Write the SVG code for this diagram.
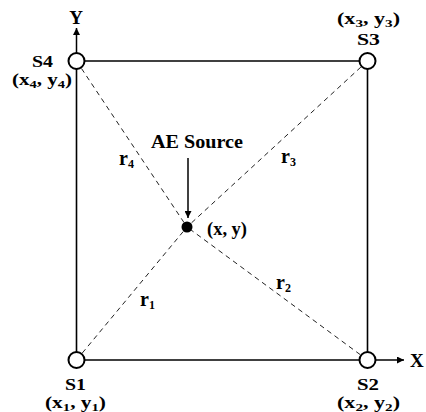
<svg xmlns="http://www.w3.org/2000/svg" width="426" height="412" viewBox="0 0 426 412">
<defs>
<marker id="ah" viewBox="0 0 10 10" refX="10" refY="5" markerWidth="10" markerHeight="7" markerUnits="userSpaceOnUse" orient="auto">
<path d="M0,0 L10,5 L0,10 z" fill="#000"/>
</marker>
<style>
text{font-family:"Liberation Serif","Times New Roman",serif;font-weight:bold;fill:#000;font-size:16px}
.big{font-size:19px}
.r{font-size:20px}
.sub{font-size:11px}
.rsub{font-size:12px}
.box{stroke:#000;stroke-width:1.6;fill:none}
.dash{stroke:#222;stroke-width:1;stroke-dasharray:5 4;fill:none}
.axis{stroke:#000;stroke-width:1.5;fill:none}
.sensor{fill:#fff;stroke:#000;stroke-width:2}
</style>
</defs>
<rect width="426" height="412" fill="#fff"/>
<g id="connectors">
<line class="box" x1="76.5" y1="61" x2="367.5" y2="61"/>
<line class="box" x1="367.5" y1="61" x2="367.5" y2="360"/>
<line class="box" x1="367.5" y1="360" x2="76.5" y2="360"/>
<line class="box" x1="76.5" y1="360" x2="76.5" y2="61"/>
<line class="dash" x1="76.5" y1="360" x2="187" y2="227"/>
<line class="dash" x1="367.5" y1="360" x2="187" y2="227"/>
<line class="dash" x1="367.5" y1="61" x2="187" y2="227"/>
<line class="dash" x1="76.5" y1="61" x2="187" y2="227"/>
<line class="axis" x1="76.5" y1="53" x2="76.5" y2="28" marker-end="url(#ah)"/>
<line class="axis" x1="375.5" y1="360" x2="404" y2="360" marker-end="url(#ah)"/>
<line class="axis" x1="188" y1="158" x2="188" y2="218" marker-end="url(#ah)"/>
<text class="r" x="119" y="165">r<tspan class="rsub" dy="3">4</tspan></text>
<text class="r" x="281" y="163">r<tspan class="rsub" dy="3">3</tspan></text>
<text class="r" x="140" y="306">r<tspan class="rsub" dy="3">1</tspan></text>
<text class="r" x="276" y="289">r<tspan class="rsub" dy="3">2</tspan></text>
</g>
<g id="axis-labels">
<text class="big" x="76" y="24" text-anchor="middle">Y</text>
<text class="big" x="410" y="367">X</text>
</g>
<g id="source">
<circle cx="187" cy="227" r="5.5" fill="#000"/>
<text class="big" x="151" y="148" textLength="92" lengthAdjust="spacingAndGlyphs">AE Source</text>
<text class="big" x="207" y="235" textLength="40" lengthAdjust="spacingAndGlyphs">(x, y)</text>
</g>
<g id="S1">
<circle class="sensor" cx="76.5" cy="360" r="8"/>
<text x="65" y="390" textLength="21" lengthAdjust="spacingAndGlyphs">S1</text>
<text x="45" y="408" textLength="61" lengthAdjust="spacingAndGlyphs">(x<tspan class="sub" dy="3">1</tspan><tspan dy="-3">, y</tspan><tspan class="sub" dy="3">1</tspan><tspan dy="-3">)</tspan></text>
</g>
<g id="S2">
<circle class="sensor" cx="367.5" cy="360" r="8"/>
<text x="357" y="390" textLength="22" lengthAdjust="spacingAndGlyphs">S2</text>
<text x="337" y="408" textLength="63" lengthAdjust="spacingAndGlyphs">(x<tspan class="sub" dy="3">2</tspan><tspan dy="-3">, y</tspan><tspan class="sub" dy="3">2</tspan><tspan dy="-3">)</tspan></text>
</g>
<g id="S3">
<circle class="sensor" cx="367.5" cy="61" r="8"/>
<text x="357" y="45" textLength="23" lengthAdjust="spacingAndGlyphs">S3</text>
<text x="337" y="24" textLength="63" lengthAdjust="spacingAndGlyphs">(x<tspan class="sub" dy="3">3</tspan><tspan dy="-3">, y</tspan><tspan class="sub" dy="3">3</tspan><tspan dy="-3">)</tspan></text>
</g>
<g id="S4">
<circle class="sensor" cx="76.5" cy="61" r="8"/>
<text x="32" y="67" textLength="21" lengthAdjust="spacingAndGlyphs">S4</text>
<text x="12" y="85" textLength="60" lengthAdjust="spacingAndGlyphs">(x<tspan class="sub" dy="3">4</tspan><tspan dy="-3">, y</tspan><tspan class="sub" dy="3">4</tspan><tspan dy="-3">)</tspan></text>
</g>
</svg>
